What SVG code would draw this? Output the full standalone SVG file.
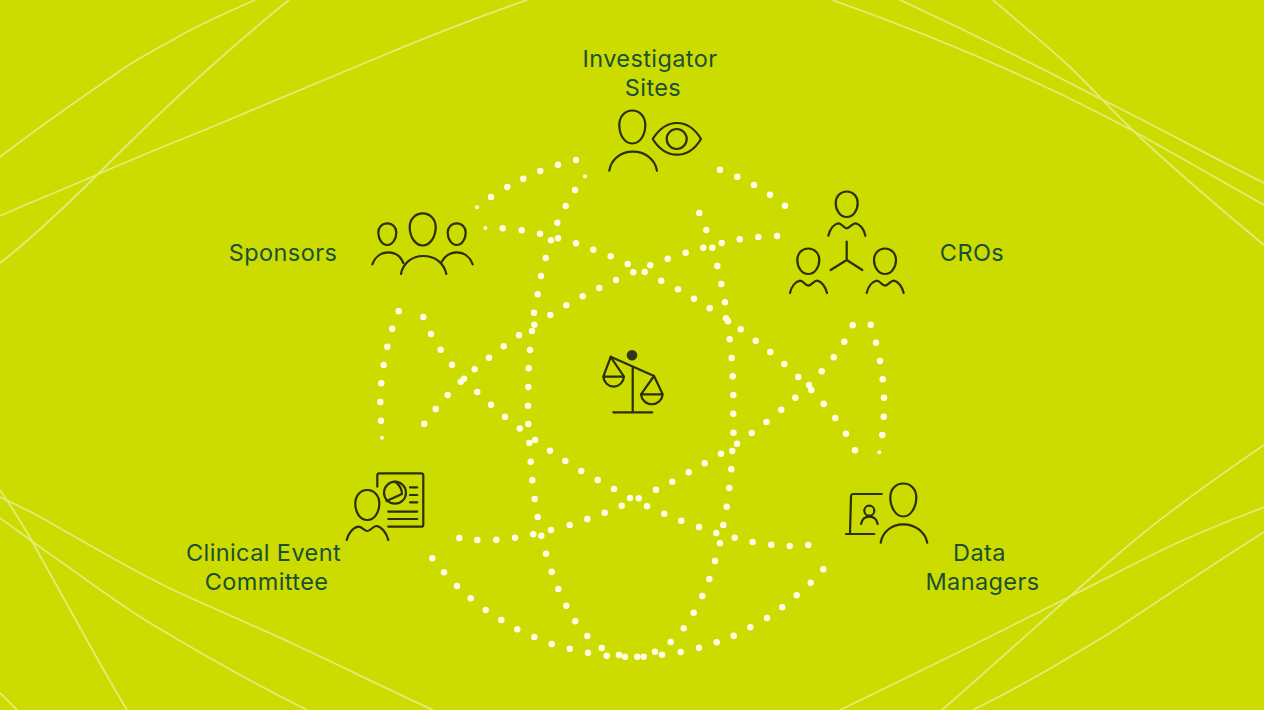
<svg xmlns="http://www.w3.org/2000/svg" width="1264" height="710" viewBox="0 0 1264 710">
<style>
.bg{fill:#cddc00}
.line{fill:none;stroke:#e3ec78;stroke-width:1.8}
.d{fill:#fffde8}
.i{fill:none;stroke:#2a2f0c;stroke-width:2.2;stroke-linecap:round;stroke-linejoin:round}
.t{font-family:"Inter","Liberation Sans",sans-serif;font-size:23.5px;letter-spacing:.4px;fill:#1a5033;text-anchor:middle}
</style>
<defs><circle id="p" r="3.2" class="d"/><circle id="s" r="2" class="d"/></defs>
<rect class="bg" width="1264" height="710"/>
<g id="background-lines">
<path class="line" d="M0 157C45 122 90 92 117 73C135 60 155 50 176 38C200 24 228 12 255 0"/>
<path class="line" d="M0 263C35 236 70 202 100 172C135 137 170 103 207 70C234 46 260 23 289 0"/>
<path class="line" d="M0 216C35 200 70 187 103 172C138 157 172 143 207 129C262 106 317 83 372 60C424 38 475 18 527 0"/>
<path class="line" d="M832 0C900 24 970 52 1037 83C1072 99 1105 116 1137 133C1180 157 1222 181 1264 205"/>
<path class="line" d="M900 0C965 30 1032 63 1097 97C1152 124 1208 155 1264 183"/>
<path class="line" d="M993 0C1019 22 1045 44 1070 67C1095 91 1118 117 1143 140C1182 176 1223 211 1264 245"/>
<path class="line" d="M0 497C11 502 22 508 33 513C78 538 122 565 167 587C211 608 256 626 300 647C345 668 389 690 433 710"/>
<path class="line" d="M0 518C12 527 25 536 37 545C75 571 112 600 150 623C203 655 255 684 307 710"/>
<path class="line" d="M0 490C12 508 24 526 33 543C50 574 67 604 83 633C98 660 112 685 127 710"/>
<path class="line" d="M0 693L17 710"/>
<path class="line" d="M840 710C859.5 700.5 918.2 672.2 957 653C995.8 633.8 1036.3 613.3 1073 595C1109.7 576.7 1145.2 557.7 1177 543C1208.8 528.3 1249.5 513 1264 507"/>
<path class="line" d="M942 710C980 677 1020 641 1057 608C1096 573 1135 538 1177 507C1205 486 1235 465 1264 445"/>
<path class="line" d="M973 710C1020 687 1065 660 1110 633C1160 600 1212 565 1264 532"/>
</g>
<g id="connectors">
<use href="#p" x="576" y="160"/><use href="#p" x="558" y="164.7"/><use href="#p" x="540.3" y="171"/><use href="#p" x="523.3" y="178.7"/><use href="#p" x="507.3" y="187"/><use href="#p" x="491" y="197"/><use href="#s" x="477" y="207.3"/>
<use href="#s" x="585" y="176.3"/><use href="#p" x="575" y="190"/><use href="#p" x="565.7" y="206"/><use href="#p" x="557.3" y="222.7"/><use href="#p" x="558" y="238.3"/><use href="#p" x="551" y="240.3"/><use href="#p" x="545.7" y="258"/><use href="#p" x="541" y="276"/><use href="#p" x="537.7" y="294.3"/><use href="#p" x="534" y="312.7"/><use href="#p" x="534.3" y="324.7"/><use href="#p" x="532" y="331"/><use href="#p" x="530" y="350"/><use href="#p" x="528.7" y="368.3"/><use href="#p" x="528.3" y="387"/><use href="#p" x="528" y="405.7"/><use href="#p" x="528.3" y="424"/><use href="#p" x="519.8" y="428.5"/><use href="#p" x="535" y="440"/>
<use href="#s" x="485.3" y="228"/><use href="#p" x="502.7" y="228.3"/><use href="#p" x="521.7" y="230.3"/><use href="#p" x="540" y="233.7"/><use href="#p" x="576" y="243.3"/><use href="#p" x="593.3" y="249.7"/><use href="#p" x="610.7" y="256.3"/><use href="#p" x="627.7" y="264"/><use href="#p" x="633.3" y="272.3"/><use href="#p" x="616" y="280"/><use href="#p" x="599.3" y="288"/><use href="#p" x="582.7" y="296.3"/><use href="#p" x="566.3" y="305.3"/><use href="#p" x="550.3" y="315"/><use href="#p" x="519" y="335.3"/><use href="#p" x="503.7" y="346.3"/><use href="#p" x="489" y="357.7"/><use href="#p" x="474.7" y="369.3"/><use href="#p" x="464" y="378.7"/><use href="#p" x="460.7" y="381.7"/><use href="#p" x="447.7" y="395"/><use href="#p" x="435.7" y="409"/><use href="#p" x="424.3" y="423.7"/>
<use href="#p" x="398.7" y="311.3"/><use href="#p" x="392.3" y="328.7"/><use href="#p" x="387.3" y="346.7"/><use href="#p" x="383.7" y="365"/><use href="#p" x="381.3" y="383.3"/><use href="#p" x="380.3" y="402"/><use href="#p" x="381" y="420.7"/><use href="#s" x="382" y="437.7"/>
<use href="#p" x="423.3" y="317"/><use href="#p" x="431" y="334"/><use href="#p" x="440.7" y="349.7"/><use href="#p" x="452" y="364.7"/><use href="#p" x="477.3" y="392"/><use href="#p" x="491" y="404.7"/><use href="#p" x="505" y="416.7"/>
<use href="#p" x="529.3" y="443"/><use href="#p" x="550" y="450.7"/><use href="#p" x="565.3" y="461"/><use href="#p" x="581.3" y="471"/><use href="#p" x="597.7" y="480"/><use href="#p" x="614" y="489"/><use href="#p" x="630" y="498"/><use href="#p" x="638.7" y="498.3"/><use href="#p" x="656" y="489.7"/><use href="#p" x="672.3" y="481.7"/><use href="#p" x="688.7" y="472.3"/><use href="#p" x="704.7" y="463.3"/><use href="#p" x="721" y="453.7"/><use href="#p" x="737" y="443.7"/><use href="#p" x="751.7" y="433"/><use href="#p" x="766.5" y="422"/>
<use href="#p" x="731.3" y="469.3"/><use href="#p" x="729.3" y="488"/><use href="#p" x="726.7" y="506.7"/><use href="#p" x="723.3" y="525"/><use href="#p" x="716.3" y="533"/><use href="#p" x="720" y="543.3"/><use href="#p" x="715" y="561"/><use href="#p" x="709.3" y="579"/><use href="#p" x="702.3" y="596"/><use href="#p" x="693.7" y="612.7"/><use href="#p" x="683.7" y="628.3"/><use href="#p" x="670.7" y="642"/><use href="#p" x="662" y="654.7"/><use href="#p" x="655" y="651.7"/>
<use href="#p" x="699" y="527"/><use href="#p" x="681.3" y="520.7"/><use href="#p" x="664.3" y="513.7"/><use href="#p" x="647" y="506.3"/><use href="#p" x="621.7" y="505.7"/><use href="#p" x="604.7" y="512.7"/><use href="#p" x="587.3" y="519"/><use href="#p" x="569.7" y="525"/><use href="#p" x="551" y="530"/><use href="#p" x="541.3" y="535.7"/><use href="#p" x="533.3" y="534.3"/><use href="#p" x="515" y="537.7"/><use href="#p" x="496.3" y="539.7"/><use href="#p" x="477.3" y="540"/><use href="#p" x="459.3" y="538"/>
<use href="#p" x="734.7" y="537.7"/><use href="#p" x="752.7" y="542"/><use href="#p" x="771.3" y="544.7"/><use href="#p" x="789.7" y="546"/><use href="#p" x="808.3" y="545"/>
<use href="#p" x="530.7" y="461.7"/><use href="#p" x="532.3" y="480.3"/><use href="#p" x="534.7" y="499"/><use href="#p" x="537.7" y="517"/><use href="#p" x="546" y="553.7"/><use href="#p" x="551.7" y="571.7"/><use href="#p" x="558.3" y="589"/><use href="#p" x="566.3" y="605.7"/><use href="#p" x="575.3" y="621.3"/><use href="#p" x="587.3" y="636"/><use href="#p" x="601.7" y="648"/><use href="#p" x="619" y="655"/><use href="#p" x="625" y="656.7"/><use href="#p" x="637.3" y="656.7"/><use href="#p" x="643.7" y="656.7"/>
<use href="#p" x="606.7" y="655.7"/><use href="#p" x="588" y="652.7"/><use href="#p" x="569.7" y="648.7"/><use href="#p" x="551.7" y="644"/><use href="#p" x="534.3" y="637"/><use href="#p" x="517.3" y="629.3"/><use href="#p" x="501.3" y="620"/><use href="#p" x="485.7" y="610"/><use href="#p" x="470.7" y="598.3"/><use href="#p" x="457" y="586"/><use href="#p" x="444" y="572.3"/><use href="#p" x="432.3" y="558.3"/>
<use href="#p" x="680.7" y="652"/><use href="#p" x="699" y="647.7"/><use href="#p" x="716.7" y="642.3"/><use href="#p" x="733.7" y="635.7"/><use href="#p" x="750.3" y="627.3"/><use href="#p" x="767" y="618"/><use href="#p" x="782.3" y="607.3"/><use href="#p" x="796.7" y="595.3"/><use href="#p" x="810.7" y="582.7"/><use href="#p" x="823.3" y="569.3"/>
<use href="#p" x="720" y="169.7"/><use href="#p" x="737.3" y="176.7"/><use href="#p" x="754" y="185"/><use href="#p" x="770" y="194.7"/><use href="#p" x="785" y="205.7"/>
<use href="#p" x="699.3" y="213"/><use href="#p" x="706.3" y="230"/><use href="#p" x="712.3" y="247.7"/><use href="#p" x="717.3" y="266"/><use href="#p" x="721.3" y="284"/><use href="#p" x="725" y="302.3"/><use href="#p" x="726" y="318.3"/><use href="#p" x="728" y="321.3"/><use href="#p" x="729.7" y="339.3"/><use href="#p" x="731.7" y="358"/><use href="#p" x="732.7" y="376.3"/><use href="#p" x="733.3" y="395"/><use href="#p" x="733.3" y="413.7"/><use href="#p" x="733.5" y="432.7"/><use href="#p" x="732.3" y="451"/>
<use href="#p" x="777" y="236"/><use href="#p" x="758.3" y="237"/><use href="#p" x="739.7" y="239.3"/><use href="#p" x="721.7" y="243"/><use href="#p" x="703.3" y="247.7"/><use href="#p" x="685.7" y="252.7"/><use href="#p" x="667.7" y="258.7"/><use href="#p" x="650.3" y="265.3"/><use href="#p" x="644.7" y="272"/>
<use href="#p" x="661.3" y="280.7"/><use href="#p" x="678" y="289.3"/><use href="#p" x="694" y="298.7"/><use href="#p" x="709.7" y="308.3"/><use href="#p" x="740.7" y="329.3"/><use href="#p" x="755.7" y="340.7"/><use href="#p" x="770.3" y="352"/><use href="#p" x="784.3" y="364"/><use href="#p" x="798.3" y="377"/><use href="#p" x="809" y="385"/><use href="#p" x="811.3" y="390"/><use href="#p" x="823.7" y="403.7"/><use href="#p" x="835.3" y="418"/><use href="#p" x="846" y="433.7"/><use href="#p" x="855" y="450.3"/>
<use href="#s" x="879.3" y="452.3"/><use href="#p" x="882.3" y="435"/><use href="#p" x="883.7" y="416.7"/><use href="#p" x="884" y="397.7"/><use href="#p" x="882.7" y="379.3"/><use href="#p" x="880" y="361"/><use href="#p" x="876" y="342.7"/><use href="#p" x="870.7" y="324.7"/><use href="#p" x="852.7" y="325.3"/><use href="#p" x="844.3" y="341.7"/><use href="#p" x="833.7" y="357.3"/><use href="#p" x="821.7" y="371.3"/><use href="#p" x="795.3" y="397.7"/><use href="#p" x="781.3" y="409.7"/>
</g>
<g id="investigator-sites">
<path class="i" d="M632.3 110.5C640 110.5 645.3 117 645.3 125C645.3 135 640 143.5 632.3 143.5C624.5 143.5 619.3 135 619.3 125C619.3 117 624.5 110.5 632.3 110.5Z"/>
<path class="i" d="M609.3 170.7C611 159 621 151.7 633 151.7C645 151.7 655 159 657 170.7"/>
<path class="i" d="M652.7 139C659 129 667 123 677 123C687 123 695 129 701 139C695 149 687 154.7 677 154.7C667 154.7 659 149 652.7 139Z"/>
<circle class="i" cx="676.7" cy="139" r="10"/>
<text class="t" x="650" y="67">Investigator</text>
<text class="t" x="653" y="96">Sites</text>
</g>
<g id="sponsors">
<path class="i" d="M422.7 213.3C430 213.3 435.7 219 435.7 227C435.7 237 430 245.5 422.7 245.5C415.5 245.5 409.7 237 409.7 227C409.7 219 415.5 213.3 422.7 213.3Z"/>
<path class="i" d="M387.3 223.3C392.5 223.3 396.3 227.5 396.3 232.5C396.3 239 392.5 245 387.3 245C382 245 378.3 239 378.3 232.5C378.3 227.5 382 223.3 387.3 223.3Z"/>
<path class="i" d="M456.7 223.3C462 223.3 465.7 227.5 465.7 232.5C465.7 239 462 245 456.7 245C451.5 245 447.7 239 447.7 232.5C447.7 227.5 451.5 223.3 456.7 223.3Z"/>
<path class="i" d="M401 274C403 263 412 256 423.3 256C435 256 444 263 446.3 274"/>
<path class="i" d="M372.3 264.3C375 257 381 252.3 388.3 252.3C395 252.3 400.5 256 403.3 263"/>
<path class="i" d="M441.7 261.7C445 256 450 252.3 456.7 252.3C464 252.3 470 257 472.7 264.3"/>
<text class="t" x="283" y="261">Sponsors</text>
</g>
<g id="cros">
<path class="i" d="M846.7 191.5C853 191.5 857.7 196.5 857.7 203C857.7 210.5 853 217 846.7 217C840.5 217 835.7 210.5 835.7 203C835.7 196.5 840.5 191.5 846.7 191.5Z"/>
<path class="i" d="M828.3 235.7C830 229 834 224 838.3 223.3C841.5 223 844 228.3 846.7 228.3C849.5 228.3 852.5 223 855.7 223.3C860 224 864 229 865.3 235.7"/>
<path class="i" d="M808.3 248.5C814.5 248.5 819.3 253.5 819.3 260C819.3 267.5 814.5 274 808.3 274C802 274 797.3 267.5 797.3 260C797.3 253.5 802 248.5 808.3 248.5Z"/>
<path class="i" d="M790 293C791.5 286.5 795.5 281.5 800 280.7C803 280.5 805.5 285.7 808.3 285.7C811 285.7 814 280.5 817.3 280.7C821.5 281.5 825.5 286.5 827 293"/>
<path class="i" d="M885 248.5C891.2 248.5 896 253.5 896 260C896 267.5 891.2 274 885 274C878.8 274 874 267.5 874 260C874 253.5 878.8 248.5 885 248.5Z"/>
<path class="i" d="M866.7 293C868.2 286.5 872.2 281.5 876.7 280.7C879.7 280.5 882.2 285.7 885 285.7C887.7 285.7 890.7 280.5 894 280.7C898.2 281.5 902.2 286.5 903.7 293"/>
<path class="i" d="M846.7 241.7V260M830.7 270L846.7 260L862.3 270"/>
<text class="t" x="972" y="261">CROs</text>
</g>
<g id="clinical-event-committee">
<path class="i" d="M367.3 490C374.5 490 379.3 496 379.3 503.5C379.3 512.5 374.5 520 367.3 520C360 520 355.3 512.5 355.3 503.5C355.3 496 360 490 367.3 490Z"/>
<path class="i" d="M346.7 540C348.5 533 353 527.5 358.3 526.7C361.5 526.5 364.5 531 367.3 531C370.5 531 373.5 525.5 376.7 526C382 527 386.5 533 388.3 540"/>
<path class="i" d="M377.3 486.7V475.3Q377.3 473.3 379.3 473.3H421.3Q423.3 473.3 423.3 475.3V524.7Q423.3 526.7 421.3 526.7H388.3"/>
<circle class="i" cx="395" cy="492.7" r="11"/>
<path class="i" d="M395 481.7Q402 487 402 494L386.5 501"/>
<path class="i" d="M410 487.3H417.3M410 495H417.3M410 502.3H417.3M388.3 511.7H417.3M388.3 519H417.3"/>
<text class="t" x="263.5" y="561">Clinical Event</text>
<text class="t" x="266.5" y="590">Committee</text>
</g>
<g id="data-managers">
<path class="i" d="M903.3 483.5C910.5 483.5 916.3 489 916.3 497.5C916.3 507.5 910.5 516.5 903.3 516.5C896 516.5 890.3 507.5 890.3 497.5C890.3 489 896 483.5 903.3 483.5Z"/>
<path class="i" d="M880.7 542.7C882.5 532 891.5 524.3 903.3 524.3C915 524.3 925 532 927.3 542.7"/>
<path class="i" d="M881.7 494H853.3Q851 494 851 496.5L850 534M846 534H874.3"/>
<circle class="i" cx="869.3" cy="510.7" r="5"/>
<path class="i" d="M861 524C862 519.5 865 516.7 869.3 516.7C873.5 516.7 876.7 519.5 877.7 524"/>
<text class="t" x="979.5" y="561">Data</text>
<text class="t" x="982.5" y="590">Managers</text>
</g>
<g id="scale">
<circle cx="632" cy="355.3" r="5.3" fill="#33361c"/>
<path class="i" d="M610.7 356.7L654 376M632.7 367.3V412.3M613.3 412.3H652.3"/>
<path class="i" d="M603.3 376.7L610.7 357L624 376.7ZM603.3 376.7A10.4 11 0 0 0 624 376.7M641 394.3L654 376L662.7 394.3ZM641 394.3A10.9 11 0 0 0 662.7 394.3"/>
</g>
</svg>
